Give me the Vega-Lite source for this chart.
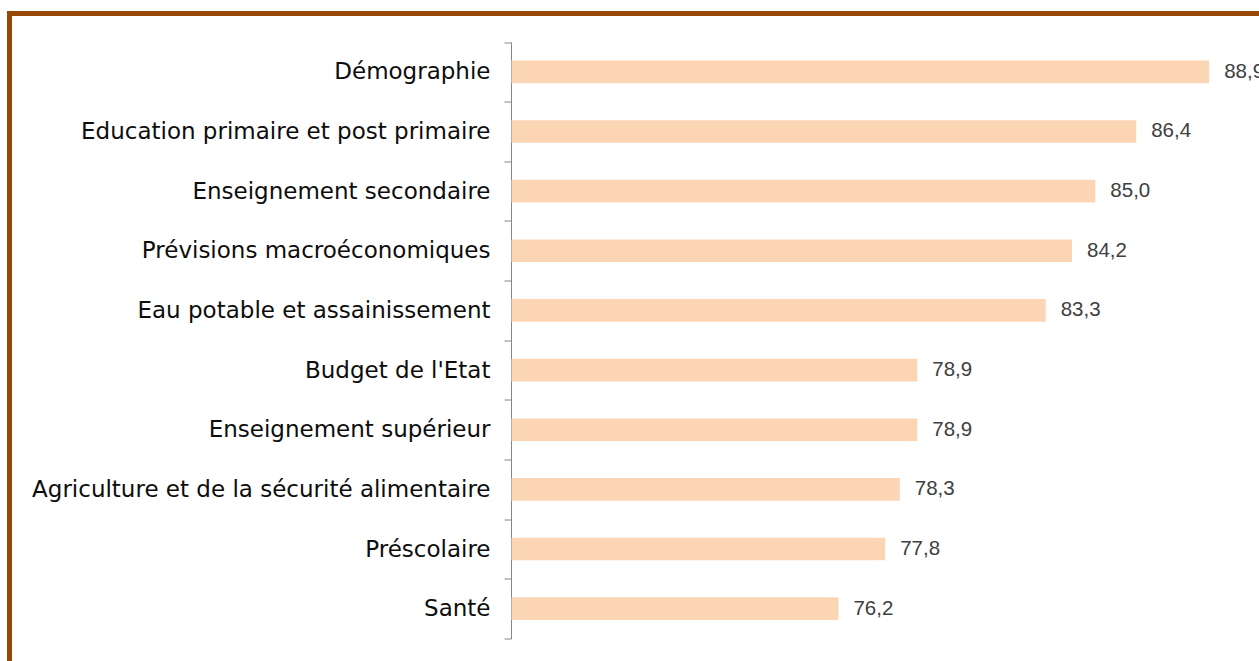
{
  "$schema": "https://vega.github.io/schema/vega-lite/v6.json",
  "width": 1300,
  "height": 660,
  "autosize": {"type": "none"},
  "padding": {"left": 9.5, "top": 13.5, "right": 0, "bottom": 0},
  "background": "white",
  "config": {
    "view": {"stroke": "#974806", "strokeWidth": 5},
    "locale": {"number": {"decimal": ",", "thousands": " ", "grouping": [3], "currency": ["", " €"]}}
  },
  "data": {
    "values": [
      {"domaine": "Démographie", "valeur": 88.9},
      {"domaine": "Education primaire et post primaire", "valeur": 86.4},
      {"domaine": "Enseignement secondaire", "valeur": 85.0},
      {"domaine": "Prévisions macroéconomiques", "valeur": 84.2},
      {"domaine": "Eau potable et assainissement", "valeur": 83.3},
      {"domaine": "Budget de l'Etat", "valeur": 78.9},
      {"domaine": "Enseignement supérieur", "valeur": 78.9},
      {"domaine": "Agriculture et de la sécurité alimentaire", "valeur": 78.3},
      {"domaine": "Préscolaire", "valeur": 77.8},
      {"domaine": "Santé", "valeur": 76.2}
    ]
  },
  "encoding": {
    "y": {
      "field": "domaine",
      "type": "nominal",
      "sort": null,
      "scale": {"range": [28.5, 625], "paddingInner": 0, "paddingOuter": 0},
      "axis": {
        "title": null,
        "orient": "left",
        "offset": -501.5,
        "tickBand": "extent",
        "tickSize": 7,
        "tickColor": "#868686",
        "domainColor": "#868686",
        "labelPadding": 14,
        "labelFont": "DejaVu Sans",
        "labelFontSize": 23,
        "labelColor": "#0d0d0d",
        "labelLimit": 700,
        "grid": false
      }
    }
  },
  "layer": [
    {
      "mark": {"type": "bar", "color": "#FCD5B4", "height": {"band": 0.38}},
      "encoding": {
        "x": {
          "field": "valeur",
          "type": "quantitative",
          "scale": {"domain": [65, 90], "range": [502, 1231.8], "zero": false, "nice": false},
          "axis": null
        },
        "x2": {"datum": 65}
      }
    },
    {
      "mark": {"type": "text", "align": "left", "baseline": "middle", "dx": 15, "font": "Liberation Sans", "fontSize": 20.5, "color": "#404040"},
      "encoding": {
        "x": {"field": "valeur", "type": "quantitative"},
        "text": {"field": "valeur", "type": "quantitative", "format": ".1f"}
      }
    }
  ]
}
